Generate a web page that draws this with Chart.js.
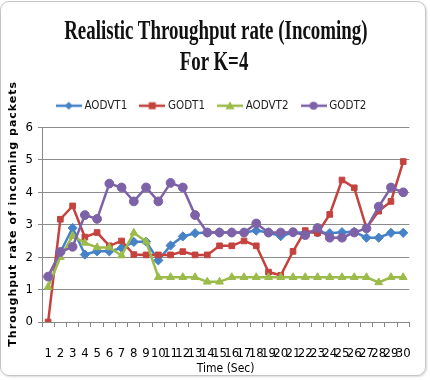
<!DOCTYPE html>
<html><head><meta charset="utf-8">
<script src="https://cdn.jsdelivr.net/npm/chart.js@4.4.0/dist/chart.umd.min.js"></script>
<style>
html,body{margin:0;padding:0;background:#fff;}
#wrap{position:relative;width:430px;height:380px;overflow:hidden;background:#fff;}
#frame{position:absolute;left:0;top:1px;width:426px;height:375px;border:1px solid #c4c4c4;border-radius:9px;box-sizing:border-box;box-shadow:1px 1px 2px rgba(0,0,0,0.15);}
#title{position:absolute;left:0;top:15px;width:428px;text-align:center;font-family:'Liberation Serif','Times New Roman',serif;font-weight:bold;font-size:27px;line-height:31px;color:#111;transform:scaleX(0.70);transform-origin:214px 0;white-space:nowrap;}
canvas{position:absolute;left:0;top:0;}
</style></head>
<body><div id="wrap"><div id="frame"></div><canvas id="c" width="430" height="380"></canvas><div id="title"><div>Realistic Throughput rate (Incoming)</div><div>For K=4</div></div></div>
<script>
const categories = ['1','2','3','4','5','6','7','8','9','10','11','12','13','14','15','16','17','18','19','20','21','22','23','24','25','26','27','28','29','30'];
const aodvT1 = [1.4, 2.15, 2.9, 2.08, 2.18, 2.18, 2.28, 2.47, 2.48, 1.9, 2.36, 2.64, 2.74, 2.76, 2.76, 2.76, 2.76, 2.82, 2.76, 2.65, 2.76, 2.76, 2.76, 2.74, 2.77, 2.78, 2.6, 2.6, 2.75, 2.75];
const godT1 = [0, 3.17, 3.58, 2.62, 2.76, 2.35, 2.5, 2.08, 2.07, 2.07, 2.07, 2.17, 2.07, 2.07, 2.35, 2.35, 2.5, 2.35, 1.54, 1.44, 2.18, 2.82, 2.74, 3.32, 4.38, 4.14, 2.9, 3.42, 3.72, 4.95];
const aodvT2 = [1.08, 2.0, 2.65, 2.44, 2.3, 2.3, 2.05, 2.75, 2.48, 1.38, 1.38, 1.38, 1.38, 1.24, 1.24, 1.38, 1.38, 1.38, 1.38, 1.38, 1.38, 1.38, 1.38, 1.38, 1.38, 1.38, 1.38, 1.22, 1.38, 1.38];
const godT2 = [1.4, 2.16, 2.32, 3.3, 3.18, 4.27, 4.15, 3.72, 4.15, 3.72, 4.29, 4.15, 3.3, 2.76, 2.76, 2.76, 2.76, 3.04, 2.76, 2.76, 2.77, 2.68, 2.9, 2.6, 2.6, 2.76, 2.89, 3.56, 4.15, 4.0];
const seriesNames = ['AODVT1','GODT1','AODVT2','GODT2'];
const yTicks = [0,1,2,3,4,5,6];

const BLUE='#4682C8', RED='#C4433F', GREEN='#9BBB4A', PURPLE='#7E62A8';
const NARROW = "'Liberation Sans Narrow','Arial Narrow','DejaVu Sans Condensed',sans-serif";

function legendIcon(color, style){
  const c=document.createElement('canvas'); c.width=26; c.height=10;
  const g=c.getContext('2d');
  g.strokeStyle=color; g.lineWidth=2.5; g.beginPath(); g.moveTo(0,5); g.lineTo(26,5); g.stroke();
  g.fillStyle=color; g.beginPath();
  if(style==='rectRot'){g.moveTo(13,1);g.lineTo(17,5);g.lineTo(13,9);g.lineTo(9,5);g.closePath();}
  else if(style==='rect'){g.rect(9.5,1.5,7,7);}
  else if(style==='triangle'){g.moveTo(13,0.5);g.lineTo(17.5,8.5);g.lineTo(8.5,8.5);g.closePath();}
  else {g.arc(13,5,4,0,Math.PI*2);}
  g.fill();
  return c;
}
const styles=['rectRot','rect','triangle','circle'];
const cols=[BLUE,RED,GREEN,PURPLE];
const icons=styles.map((s,i)=>legendIcon(cols[i],s));

function ds(i,data,order){
  return {label:seriesNames[i],data:data,borderColor:cols[i],backgroundColor:cols[i],pointStyle:styles[i],
    pointRadius: styles[i]==='triangle'?4.5:(styles[i]==='rect'?4:(styles[i]==='rectRot'?4.6:4.4)),pointBorderWidth:1,borderWidth:2.5,tension:0,order:order};
}

const yTitleSpacing = {
  id:'yTitleSpacing',
  afterLayout(chart){
    const s=chart.scales.y;
    if(s && !s._wrapped){
      const orig=s.drawTitle;
      s.drawTitle=function(){
        const ctx=this.ctx; ctx.save();
        ctx.letterSpacing='1px';
        ctx.translate(0,-11);
        orig.call(this);
        ctx.restore();
      };
      s._wrapped=true;
    }
  }
};

new Chart(document.getElementById('c'),{
  type:'line',
  data:{labels:categories,datasets:[ds(0,aodvT1,4),ds(1,godT1,3),ds(2,aodvT2,2),ds(3,godT2,1)]},
  plugins:[yTitleSpacing],
  options:{
    responsive:false,animation:false,devicePixelRatio:1,
    layout:{padding:{top:85,left:12,right:17,bottom:4}},
    plugins:{
      tooltip:{enabled:false},
      title:{display:false},
      legend:{display:true,position:'top',
        labels:{usePointStyle:true,pointStyleWidth:20,boxHeight:10,padding:15,color:'#222',
          font:{family:NARROW,size:11.5},
          sort:(a,b)=>a.datasetIndex-b.datasetIndex,
          generateLabels:(chart)=>{
            const items=Chart.defaults.plugins.legend.labels.generateLabels(chart);
            items.forEach(it=>{it.pointStyle=icons[it.datasetIndex];});
            return items;
          }}}
    },
    scales:{
      x:{type:'category',offset:true,
        grid:{display:true,drawOnChartArea:false,drawTicks:true,tickLength:5,color:'#888',offset:true},
        border:{display:true,color:'#888',width:1},
        ticks:{autoSkip:false,maxRotation:0,minRotation:0,padding:19,color:'#000',font:{family:NARROW,size:13}},
        title:{display:true,text:'Time (Sec)',color:'#000',font:{family:NARROW,size:12},padding:{top:0,bottom:0}},
        afterFit:(s)=>{s.height=54;}
      },
      xTop:{type:'category',position:'top',display:true,
        grid:{display:false},ticks:{display:false},border:{display:false},title:{display:false},
        afterFit:(s)=>{s.height=6;}
      },
      y:{min:0,max:6,
        afterBuildTicks:(s)=>{s.ticks=yTicks.map(v=>({value:v}));},
        ticks:{padding:5,color:'#000',font:{family:NARROW,size:13}},
        grid:{color:'#8c8c8c',tickLength:4,drawTicks:true,lineWidth:1},
        border:{display:true,color:'#888'},
        title:{display:true,text:'Throughput rate of incoming packets',color:'#000',font:{family:"'DejaVu Sans',sans-serif",weight:'bold',size:11},padding:{top:-5,bottom:0}},
        afterFit:(s)=>{s.width=30;}
      }
    }
  }
});
</script>
</body></html>
